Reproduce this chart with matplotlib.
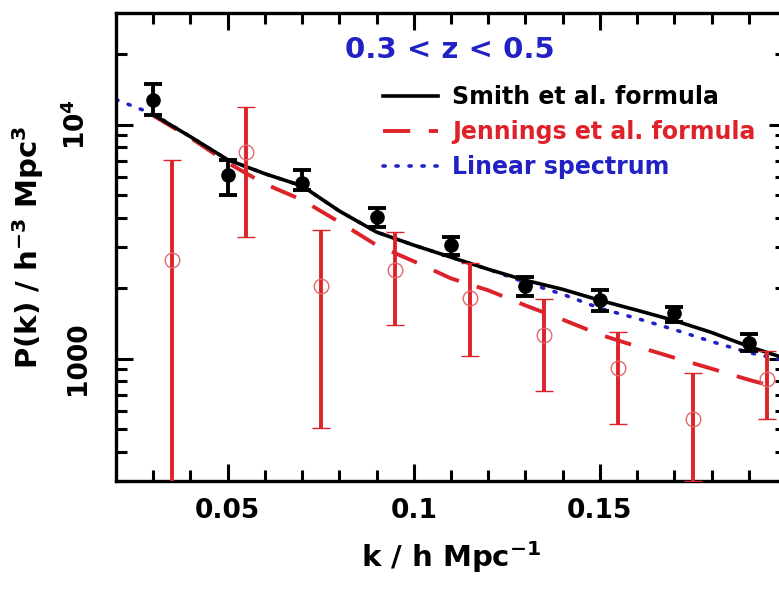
import matplotlib
matplotlib.use("Agg")
import matplotlib.pyplot as plt
from matplotlib.ticker import LogLocator, MultipleLocator, NullFormatter

plt.rcParams["font.family"] = ["DejaVu Sans"]
plt.rcParams["font.weight"] = "bold"
plt.rcParams["axes.labelweight"] = "bold"
plt.rcParams["mathtext.fontset"] = "dejavusans"
plt.rcParams["mathtext.default"] = "bf"

RED = "#de2229"
BLUE = "#2222c4"

# measured power spectrum (filled points)
k_data = [0.03, 0.05, 0.07, 0.09, 0.11, 0.13, 0.15, 0.17, 0.19]
pk_data = [12800, 6100, 5640, 4030, 3060, 2040, 1775, 1560, 1170]
pk_data_hi = [14860, 7080, 6410, 4410, 3300, 2230, 1960, 1660, 1280]
pk_data_lo = [11040, 5010, 5260, 3650, 2770, 1860, 1600, 1430, 1080]

# second estimate (open circles)
k_alt = [0.035, 0.055, 0.075, 0.095, 0.115, 0.135, 0.155, 0.175, 0.195]
pk_alt = [2640, 7660, 2040, 2390, 1810, 1256, 914, 552, 820]
pk_alt_hi = [7080, 11950, 3540, 3475, 2560, 1790, 1305, 871, 1082]
pk_alt_lo = [100, 3306, 506, 1387, 1030, 729, 526, 300, 552]

# model curves
k_model = [0.02, 0.03, 0.04, 0.05, 0.06, 0.07, 0.08, 0.09, 0.10, 0.11,
           0.12, 0.13, 0.14, 0.15, 0.16, 0.17, 0.18, 0.19, 0.20]
pk_smith = [None, 11040, 8880, 7080, 6170, 5470, 4275, 3475, 3055, 2713,
            2410, 2162, 1978, 1775, 1610, 1455, 1294, 1127, 1000]
pk_jennings = [None, 10930, 8790, 6870, 5580, 4765, 3835, 3055, 2606, 2203,
               1959, 1688, 1469, 1267, 1127, 1009, 906, 812, 736]
pk_linear = [12800, 11100, 8880, 7080, 6170, 5470, 4275, 3475, 3055, 2713,
             2410, 2117, 1884, 1641, 1485, 1331, 1183, 1062, 979]

fig = plt.figure(figsize=(7.79, 5.90), dpi=100)
ax = fig.add_axes([116 / 779, 109 / 590, 670 / 779, 468 / 590])

ks = [k for k, p in zip(k_model, pk_smith) if p is not None]
ps = [p for p in pk_smith if p is not None]
kj = [k for k, p in zip(k_model, pk_jennings) if p is not None]
pj = [p for p in pk_jennings if p is not None]

ax.plot(k_model, pk_linear, color=BLUE, lw=2.6, linestyle=(0, (0.6, 3.0)),
        dash_capstyle="round", label="Linear spectrum", zorder=2)
ax.plot(kj, pj, color=RED, lw=2.8, linestyle=(0, (7.0, 4.8)),
        label="Jennings et al. formula", zorder=2)
ax.plot(ks, ps, color="black", lw=2.6, label="Smith et al. formula", zorder=3)

alt_err = [[p - lo for p, lo in zip(pk_alt, pk_alt_lo)],
           [hi - p for p, hi in zip(pk_alt, pk_alt_hi)]]
ax.errorbar(k_alt, pk_alt, yerr=alt_err, fmt="o", mfc="none", mec="#e06868",
            mew=1.0, ms=10.5, color=RED, elinewidth=2.8, capsize=6.5,
            capthick=2.8, zorder=4)

data_err = [[p - lo for p, lo in zip(pk_data, pk_data_lo)],
            [hi - p for p, hi in zip(pk_data, pk_data_hi)]]
ax.errorbar(k_data, pk_data, yerr=data_err, fmt="o", color="black",
            ms=9.5, elinewidth=2.8, capsize=6.5, capthick=2.8, zorder=5)

ax.set_yscale("log")
ax.set_xlim(0.02, 0.2)
ax.set_ylim(300, 30000)

ax.set_xticks([0.05, 0.1, 0.15, 0.2], labels=["0.05", "0.1", "0.15", ""])
ax.xaxis.set_minor_locator(MultipleLocator(0.01))
ax.set_yticks([1000, 10000], labels=["1000", r"$10^{4}$"])
ax.yaxis.set_minor_locator(LogLocator(base=10, subs=range(2, 10)))
ax.yaxis.set_minor_formatter(NullFormatter())

ax.tick_params(which="both", direction="in", top=True, right=True, width=2.2)
ax.tick_params(which="major", length=12)
ax.tick_params(which="minor", length=8)
ax.tick_params(axis="x", labelsize=19, pad=12)
ax.tick_params(axis="y", labelsize=19, pad=18, labelrotation=90)
for lab in ax.get_yticklabels():
    lab.set_verticalalignment("center")
for sp in ax.spines.values():
    sp.set_linewidth(2.4)

ax.set_xlabel(r"k / h Mpc$^{-1}$", fontsize=21, fontweight="bold")
ax.set_ylabel(r"P(k) / h$^{-3}$ Mpc$^{3}$", fontsize=21, fontweight="bold")
ax.xaxis.set_label_coords(0.5, -0.125)
ax.yaxis.set_label_coords(-0.104, 0.5)

ax.text(0.342, 0.921, "0.3 < z < 0.5", transform=ax.transAxes, color=BLUE,
        fontsize=21, fontweight="bold", va="center", ha="left")

handles, labels = ax.get_legend_handles_labels()
order = [2, 1, 0]
ax.legend([handles[i] for i in order], [labels[i] for i in order],
          loc="upper left", bbox_to_anchor=(0.3985, 0.846), frameon=False,
          fontsize=17, handlelength=2.33, handletextpad=0.6,
          labelspacing=0.47, borderpad=0, borderaxespad=0,
          labelcolor="linecolor")

fig.savefig("out.png", dpi=100)
